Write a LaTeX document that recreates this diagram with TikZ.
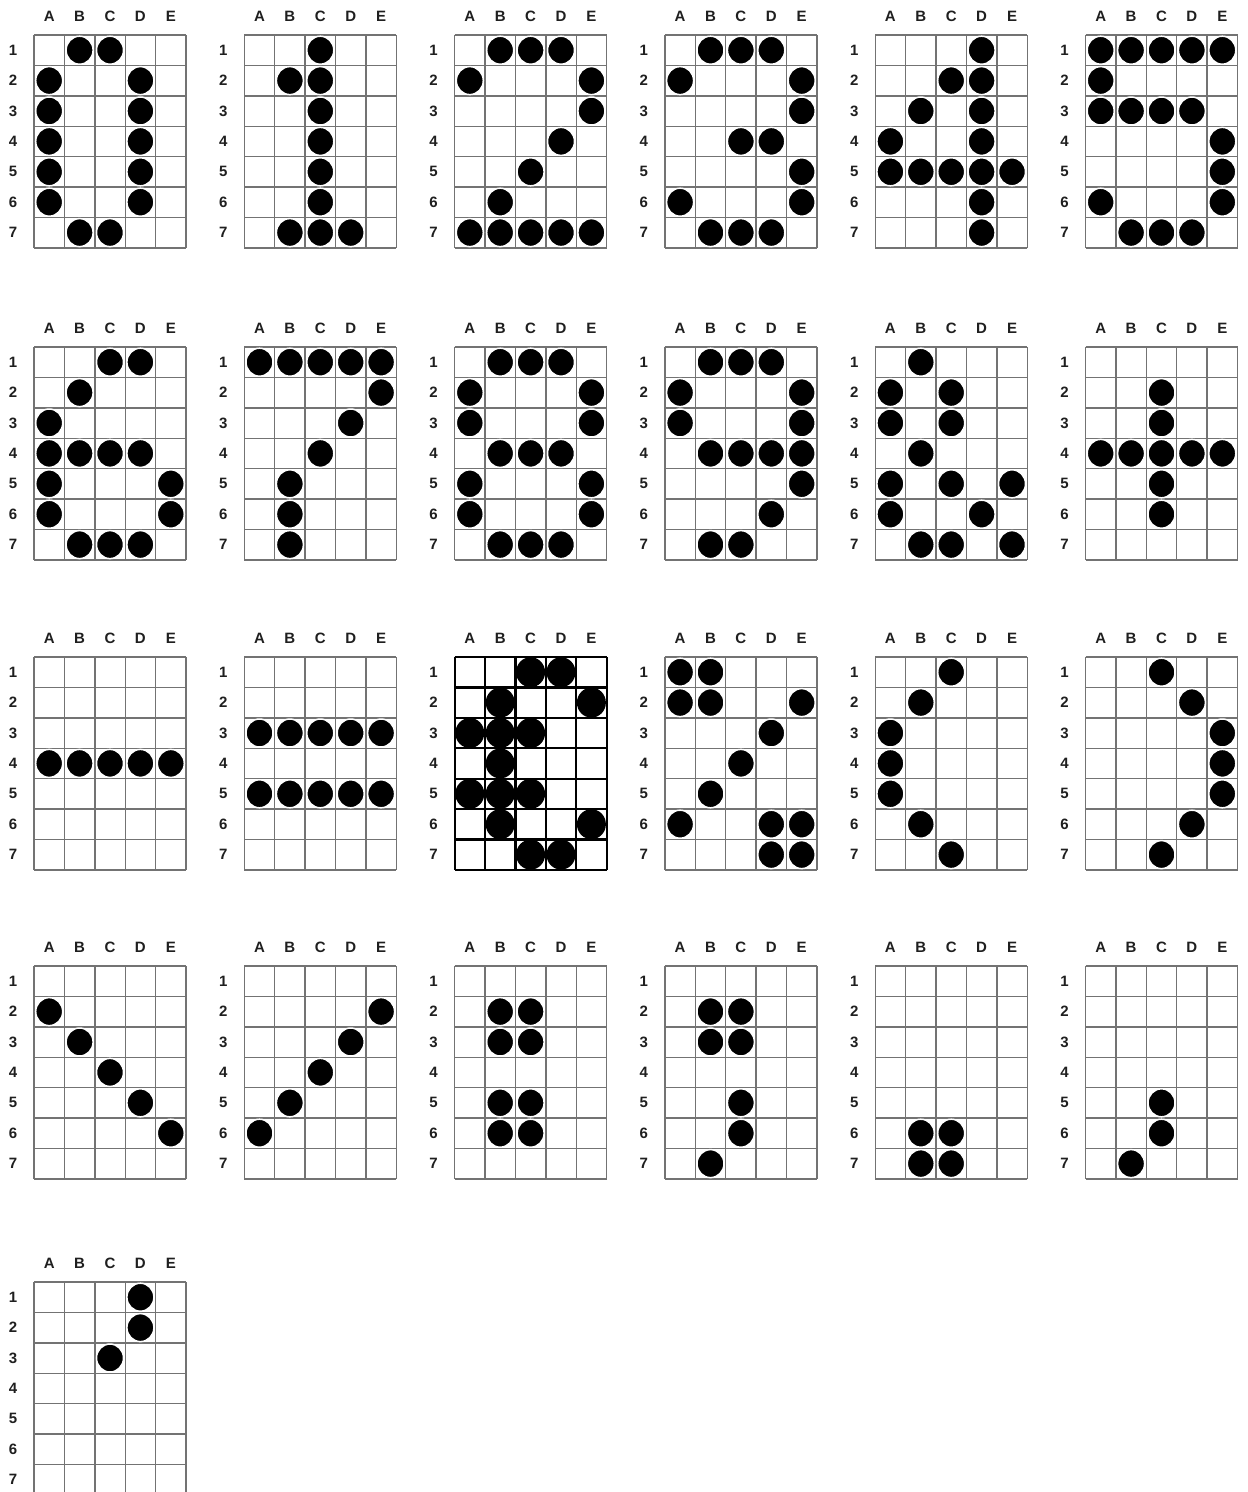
\documentclass[tikz,border=0pt]{standalone}
\usepackage{fontspec}
\setmainfont{Liberation Sans}
\definecolor{gridgray}{gray}{0.45}
\definecolor{labelgray}{gray}{0.12}
\tikzset{
  gl/.style={draw=gridgray, line width=1.4pt},
  glb/.style={draw=black, line width=2.2pt},
  dotn/.style={fill=black, draw=white, line width=1.5pt},
  dotb/.style={fill=black, draw=none},
  collabel/.style={font=\bfseries\fontsize{15}{15}\selectfont, text=labelgray, inner sep=0pt, anchor=center},
  rowlabel/.style={font=\bfseries\fontsize{15}{15}\selectfont, text=labelgray, inner sep=0pt, anchor=center}
}
% #1 name, #2 left, #3 top, #4 line style, #5 dot style, #6 dot radius x, #7 dot radius y, #8 dots
\newcommand\charbox[8]{%
  \foreach \k/\L in {1/A,2/B,3/C,4/D,5/E}
    \node[collabel] (#1-h\k) at ({#2+30.4*\k-15.2},{#3-19}) {\L};
  \foreach \r in {1,...,7}
    \node[rowlabel] (#1-r\r) at ({#2-21},{#3+30.4*\r-15.2}) {\r};
  \foreach \k in {0,...,5}
    \draw[#4] ({#2+30.4*\k},#3) -- ({#2+30.4*\k},{#3+212.8});
  \foreach \r in {0,...,7}
    \draw[#4] (#2,{#3+30.4*\r}) -- ({#2+152},{#3+30.4*\r});
  \foreach \c/\r in {#8}
    \path[#5] ({#2+30.4*\c-15.2},{#3+30.4*\r-15.2}) ellipse [x radius=#6pt, y radius=#7pt];
}
\begin{document}
\begin{tikzpicture}[x=1pt,y=-1pt]
\useasboundingbox[fill=white] (0,0) rectangle (1248,1492);
% row 1
\charbox{g0}{34}{35}{gl}{dotn}{13.5}{14}{2/1,3/1,1/2,4/2,1/3,4/3,1/4,4/4,1/5,4/5,1/6,4/6,2/7,3/7}
\charbox{g1}{244.3}{35}{gl}{dotn}{13.5}{14}{3/1,2/2,3/2,3/3,3/4,3/5,3/6,2/7,3/7,4/7}
\charbox{g2}{454.6}{35}{gl}{dotn}{13.5}{14}{2/1,3/1,4/1,1/2,5/2,5/3,4/4,3/5,2/6,1/7,2/7,3/7,4/7,5/7}
\charbox{g3}{664.9}{35}{gl}{dotn}{13.5}{14}{2/1,3/1,4/1,1/2,5/2,5/3,3/4,4/4,5/5,1/6,5/6,2/7,3/7,4/7}
\charbox{g4}{875.2}{35}{gl}{dotn}{13.5}{14}{4/1,3/2,4/2,2/3,4/3,1/4,4/4,1/5,2/5,3/5,4/5,5/5,4/6,4/7}
\charbox{g5}{1085.5}{35}{gl}{dotn}{13.5}{14}{1/1,2/1,3/1,4/1,5/1,1/2,1/3,2/3,3/3,4/3,5/4,5/5,1/6,5/6,2/7,3/7,4/7}
% row 2
\charbox{g6}{34}{347}{gl}{dotn}{13.5}{14}{3/1,4/1,2/2,1/3,1/4,2/4,3/4,4/4,1/5,5/5,1/6,5/6,2/7,3/7,4/7}
\charbox{g7}{244.3}{347}{gl}{dotn}{13.5}{14}{1/1,2/1,3/1,4/1,5/1,5/2,4/3,3/4,2/5,2/6,2/7}
\charbox{g8}{454.6}{347}{gl}{dotn}{13.5}{14}{2/1,3/1,4/1,1/2,5/2,1/3,5/3,2/4,3/4,4/4,1/5,5/5,1/6,5/6,2/7,3/7,4/7}
\charbox{g9}{664.9}{347}{gl}{dotn}{13.5}{14}{2/1,3/1,4/1,1/2,5/2,1/3,5/3,2/4,3/4,4/4,5/4,5/5,4/6,2/7,3/7}
\charbox{gamp}{875.2}{347}{gl}{dotn}{13.5}{14}{2/1,1/2,3/2,1/3,3/3,2/4,1/5,3/5,5/5,1/6,4/6,2/7,3/7,5/7}
\charbox{gplus}{1085.5}{347}{gl}{dotn}{13.5}{14}{3/2,3/3,1/4,2/4,3/4,4/4,5/4,3/5,3/6}
% row 3
\charbox{gminus}{34}{657}{gl}{dotn}{13.5}{14}{1/4,2/4,3/4,4/4,5/4}
\charbox{geq}{244.3}{657}{gl}{dotn}{13.5}{14}{1/3,2/3,3/3,4/3,5/3,1/5,2/5,3/5,4/5,5/5}
\charbox{gdollar}{454.6}{657}{glb}{dotb}{14.5}{15}{3/1,4/1,2/2,5/2,1/3,2/3,3/3,2/4,1/5,2/5,3/5,2/6,5/6,3/7,4/7}
\charbox{gpct}{664.9}{657}{gl}{dotn}{13.5}{14}{1/1,2/1,1/2,2/2,5/2,4/3,3/4,2/5,1/6,4/6,5/6,4/7,5/7}
\charbox{glpar}{875.2}{657}{gl}{dotn}{13.5}{14}{3/1,2/2,1/3,1/4,1/5,2/6,3/7}
\charbox{grpar}{1085.5}{657}{gl}{dotn}{13.5}{14}{3/1,4/2,5/3,5/4,5/5,4/6,3/7}
% row 4
\charbox{gbslash}{34}{966}{gl}{dotn}{13.5}{14}{1/2,2/3,3/4,4/5,5/6}
\charbox{gslash}{244.3}{966}{gl}{dotn}{13.5}{14}{5/2,4/3,3/4,2/5,1/6}
\charbox{gcolon}{454.6}{966}{gl}{dotn}{13.5}{14}{2/2,3/2,2/3,3/3,2/5,3/5,2/6,3/6}
\charbox{gsemi}{664.9}{966}{gl}{dotn}{13.5}{14}{2/2,3/2,2/3,3/3,3/5,3/6,2/7}
\charbox{gdot}{875.2}{966}{gl}{dotn}{13.5}{14}{2/6,3/6,2/7,3/7}
\charbox{gcomma}{1085.5}{966}{gl}{dotn}{13.5}{14}{3/5,3/6,2/7}
% row 5
\charbox{gapos}{34}{1282}{gl}{dotn}{13.5}{14}{4/1,4/2,3/3}
\end{tikzpicture}
\end{document}
